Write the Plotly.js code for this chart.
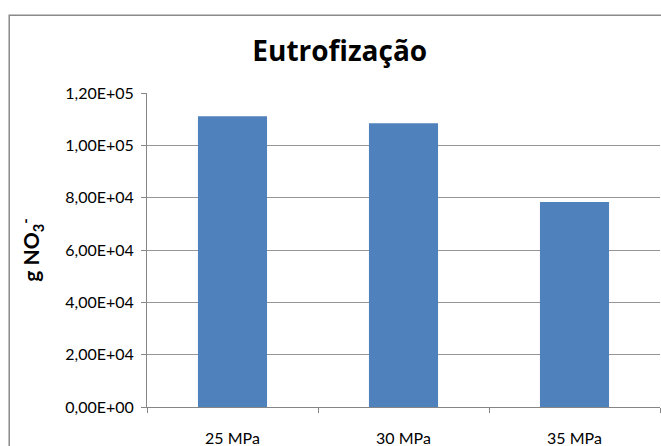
<!DOCTYPE html>
<html>
<head>
<meta charset="utf-8">
<script src="https://cdn.plot.ly/plotly-3.0.1.min.js"></script>
<style>html,body{margin:0;padding:0;background:#fff;}#chart{width:661px;height:446px;}</style>
</head>
<body>
<div id="chart"></div>
<script>
var categories = ["25 MPa", "30 MPa", "35 MPa"];
var values = [111100, 108400, 78300];
var yTickValues = [0, 20000, 40000, 60000, 80000, 100000, 120000];
var yTickLabels = ["0,00E+00", "2,00E+04", "4,00E+04", "6,00E+04", "8,00E+04", "1,00E+05", "1,20E+05"];

var font = "Lato, 'Open Sans', sans-serif";
var trace = {
  type: "bar",
  x: categories,
  y: values,
  marker: {color: "#4F81BD", line: {width: 0}},
  hoverinfo: "none"
};
var layout = {
  width: 661, height: 446,
  margin: {l: 147, r: 1, t: 93, b: 39, pad: 0},
  paper_bgcolor: "#ffffff", plot_bgcolor: "#ffffff",
  showlegend: false,
  bargap: 0.596,
  font: {family: font, color: "#000000", size: 16},
  title: {
    text: "<b>Eutrofização</b>",
    font: {family: "'Open Sans', Lato, sans-serif", size: 28, color: "#000000"},
    x: 0.514, xref: "container", xanchor: "center",
    y: 0.885, yref: "container", yanchor: "middle"
  },
  xaxis: {
    type: "category",
    range: [-0.5, 2.5],
    showline: true, linecolor: "#868686", linewidth: 1,
    ticks: "outside", tickson: "boundaries", ticklen: 5, tickcolor: "#868686",
    tickfont: {family: font, size: 16, color: "#000000"},
    ticklabelstandoff: 17,
    showgrid: false, zeroline: false, fixedrange: true
  },
  yaxis: {
    range: [0, 120000],
    tickmode: "array", tickvals: yTickValues, ticktext: yTickLabels,
    showline: true, linecolor: "#868686", linewidth: 1,
    ticks: "outside", ticklen: 5, tickcolor: "#868686",
    tickfont: {family: font, size: 16, color: "#000000"},
    ticklabelstandoff: 4,
    showgrid: true, gridcolor: "#959595", gridwidth: 1,
    zeroline: false, fixedrange: true,
    title: {
      text: "<b>g NO<sub>3</sub><sup>-</sup></b>",
      font: {family: font, size: 21, color: "#000000"},
      standoff: 19
    }
  },
  shapes: [{
    type: "rect", xref: "paper", yref: "paper",
    x0: -0.2686, x1: 1.05, y0: -0.3, y1: 1.2475,
    line: {color: "#8a8a8a", width: 1.5},
    fillcolor: "rgba(0,0,0,0)", layer: "above"
  }]
};
Plotly.newPlot("chart", [trace], layout, {displayModeBar: false, staticPlot: true});
</script>
</body>
</html>
